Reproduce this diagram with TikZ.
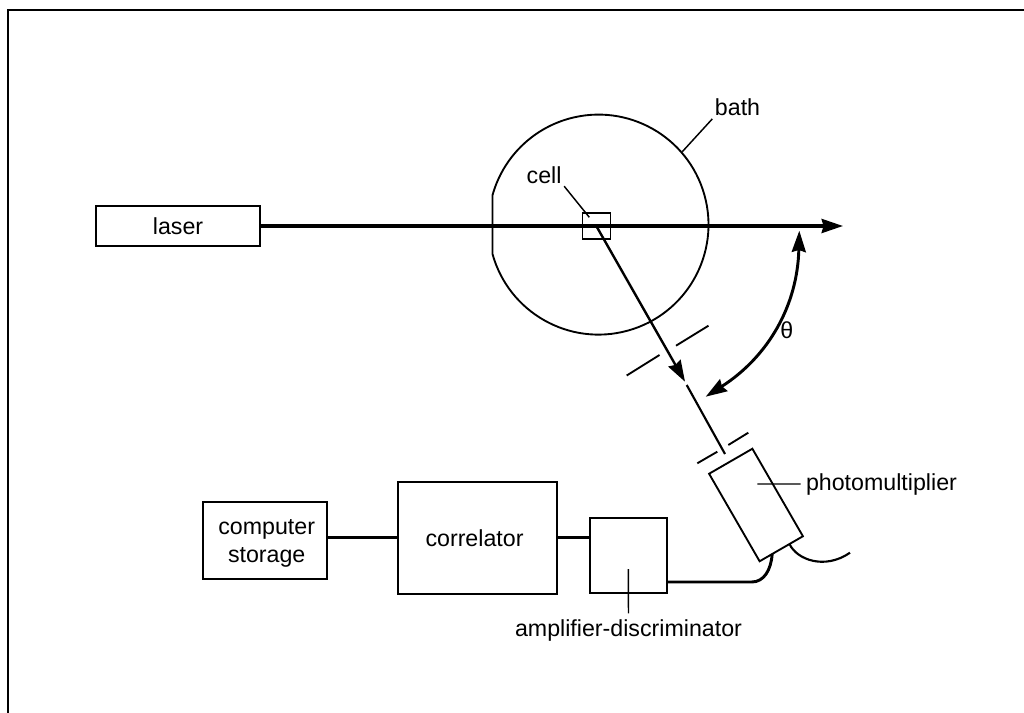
\documentclass[tikz,border=0pt]{standalone}
\usepackage{fontspec}
\setmainfont{Liberation Sans}
\usetikzlibrary{arrows.meta, calc}

\begin{document}
\begin{tikzpicture}[
  x=0.75pt, y=-0.75pt,
  every node/.style={font=\fontsize{17.4}{21}\selectfont, inner sep=0pt, outer sep=0pt},
  box/.style={rectangle, draw=black, line width=1.4pt, align=center},
  beam/.style={line width=2.6pt, black},
  wire/.style={line width=2.2pt, black},
  leader/.style={line width=1.1pt, black},
  slit/.style={line width=1.4pt, black},
  tip/.style={-{Stealth[length=16pt, width=10.5pt, inset=1.5pt]}},
]
\useasboundingbox (0,0) rectangle (1024,713);

% Frame
\coordinate (framea) at (8,713);
\coordinate (frameb) at (8,10);
\coordinate (framec) at (1024,10);
\draw[line width=2.1pt] (framea) -- (frameb) -- (framec);

% Bath
\draw[line width=1.4pt] (492.5,254) arc[start angle=164.5, end angle=-164.5, radius=110] -- cycle;

% Top row
\node[box, minimum width=123.4pt, minimum height=29.6pt] (laser) at (178,226) {laser};
\node[box, minimum width=21pt, minimum height=19.5pt, line width=1.2pt] (cell) at (596.3,226) {};
\coordinate (beamend) at (843,226);

% Bottom row
\node[box, minimum width=93pt, minimum height=57.5pt] (comp) at (264.7,540.6) {\rule{0pt}{16.1pt}\hspace{3pt}computer\\\hspace{3pt}storage};
\node[box, minimum width=119.2pt, minimum height=84.2pt] (corr) at (477.2,537.8) {\hspace{-4pt}correlator};
\node[box, minimum width=57.5pt, minimum height=56.2pt] (amp) at (628.3,555.8) {};
\node[box, minimum width=75.8pt, minimum height=37.5pt, rotate=-60] (pmt) at (756,505) {};

% Labels
\node[anchor=base west, inner sep=2pt] (bathl) at (712.3,116) {bath};
\node[anchor=base west, inner sep=2pt] (celll) at (524,183.3) {cell};
\node[anchor=base west, inner xsep=4pt] (pmtl) at (800.7,490) {photomultiplier};
\node[anchor=base, inner ysep=4.4pt] (ampl) at (628.5,636) {amplifier-discriminator};
\node (theta) at (786.7,330) {θ};

% Free ends
\coordinate (bathedge) at (682.3,151.7);
\coordinate (cellin) at (589.3,217.3);
\coordinate (pmtin) at (757.3,484);
\coordinate (ampin) at (628.3,569);
\coordinate (scatend) at (685,381.7);
\coordinate (scatb) at (686.7,385);
\coordinate (scatc) at (725,454);
\coordinate (ampbend) at (751.7,582);
\coordinate (pmtouta) at ($(pmt.south east)!0.29!(pmt.north east)$);
\coordinate (pmtoutb) at ($(pmt.south east)!0.69!(pmt.north east)$);
\coordinate (cableend) at (850,552.7);
\coordinate (thetatop) at (799.3,230.7);
\coordinate (thetabot) at (705.7,396.7);

% Slits
\coordinate (slita) at (626.7,375.5);
\coordinate (slitb) at (659.5,355);
\coordinate (slitc) at (676,345.7);
\coordinate (slitd) at (708.5,325.7);
\coordinate (slite) at (697.3,463.3);
\coordinate (slitf) at (717.3,451.7);
\coordinate (slitg) at (728.3,445);
\coordinate (slith) at (748.3,432.7);
\draw[slit] (slita) -- (slitb);
\draw[slit] (slitc) -- (slitd);
\draw[slit] (slite) -- (slitf);
\draw[slit] (slitg) -- (slith);

% Arrows
\draw[beam, tip] (laser.east) -- (beamend);
\draw[line width=1.8pt, tip] (cell.center) -- (scatend);
\draw[line width=1.6pt] (scatb) -- (scatc);
\draw[line width=2.2pt, {Stealth[length=16pt, width=10.5pt, inset=1.5pt]}-{Stealth[length=16pt, width=10.5pt, inset=1.5pt]}] (thetatop) to[bend left=28] (thetabot);

% Wires
\draw[wire] (comp.east |- corr.west) -- (corr.west);
\draw[wire] (corr.east) -- (corr.east -| amp.west);
\draw[wire] (amp.east |- ampbend) -- (ampbend) .. controls (764,582) and (771,570) .. (pmtouta);
\draw[line width=1.6pt] (pmtoutb) .. controls (797,560) and (825,570) .. (cableend);

% Leaders
\draw[leader] (bathl.south west) -- (bathedge);
\draw[leader] (celll.south east) -- (cellin);
\draw[leader] (pmtl.west) -- (pmtin);
\draw[leader] (ampl.north) -- (ampin);

\end{tikzpicture}
\end{document}
